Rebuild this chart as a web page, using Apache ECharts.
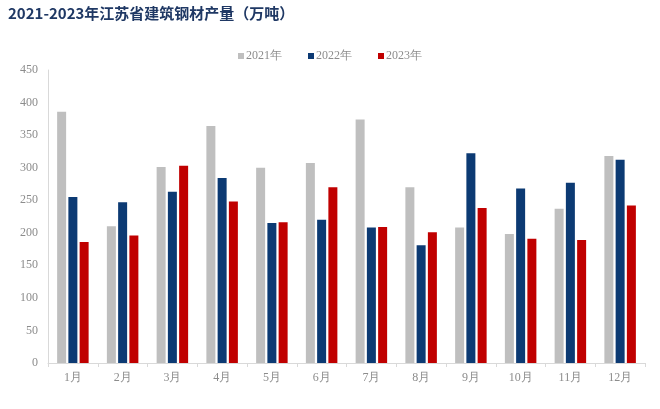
<html>
  <head>
    <meta charset="utf-8" />
    <script src="https://cdn.jsdelivr.net/npm/echarts@6/dist/echarts.min.js"></script>
  </head>
  <body>
    <style>
      html,
      body,
      #main {
        width: 100%;
        height: 100%;
        margin: 0;
        background: #fff;
      }
    </style>
    <div id="main"></div>
    <script>
      var chart = echarts.init(document.getElementById('main'));

      var months = ['1月', '2月', '3月', '4月', '5月', '6月', '7月', '8月', '9月', '10月', '11月', '12月'];
      var y2021 = [386, 210, 301, 364, 300, 307, 374, 270, 208, 198, 237, 318];
      var y2022 = [255, 247, 263, 284, 215, 220, 208, 181, 322, 268, 277, 312];
      var y2023 = [186, 196, 303, 248, 216, 270, 209, 201, 238, 191, 189, 242];

      var serif = 'serif';

      function bar(name, data, color) {
        return {
          name: name,
          type: 'bar',
          data: data,
          barWidth: 9,
          barGap: '25%',
          itemStyle: { color: color },
        };
      }

      var option = {
        animation: false,
        title: {
          text: '2021-2023年江苏省建筑钢材产量（万吨）',
          left: 3,
          top: 1,
          textStyle: {
            fontFamily: 'Noto Sans CJK SC',
            fontWeight: 'bold',
            fontSize: 15,
            color: '#1F3864',
          },
        },
        legend: {
          top: 45,
          left: 'center',
          itemWidth: 6,
          itemHeight: 6,
          itemGap: 26,
          icon: 'rect',
          textStyle: { fontFamily: serif, fontSize: 12, color: '#8c8c8c', padding: [0, 0, 0, -3] },
        },
        grid: { left: 48, right: 15, top: 70, bottom: 46 },
        xAxis: {
          type: 'category',
          data: months,
          axisLine: { lineStyle: { color: '#D9D9D9' } },
          axisTick: { show: true, length: 4, lineStyle: { color: '#D9D9D9' } },
          axisLabel: { fontFamily: serif, fontSize: 12, color: '#8c8c8c', margin: 9 },
        },
        yAxis: {
          type: 'value',
          min: 0,
          max: 450,
          interval: 50,
          axisLine: { show: true, lineStyle: { color: '#D9D9D9' } },
          axisTick: { show: false },
          splitLine: { show: false },
          axisLabel: { fontFamily: serif, fontSize: 12, color: '#8c8c8c', margin: 10 },
        },
        series: [
          bar('2021年', y2021, '#BFBFBF'),
          bar('2022年', y2022, '#0C3A73'),
          bar('2023年', y2023, '#C00000'),
        ],
      };

      chart.setOption(option);

      window.onresize = function () {
        chart.resize();
      };
    </script>
  </body>
</html>
